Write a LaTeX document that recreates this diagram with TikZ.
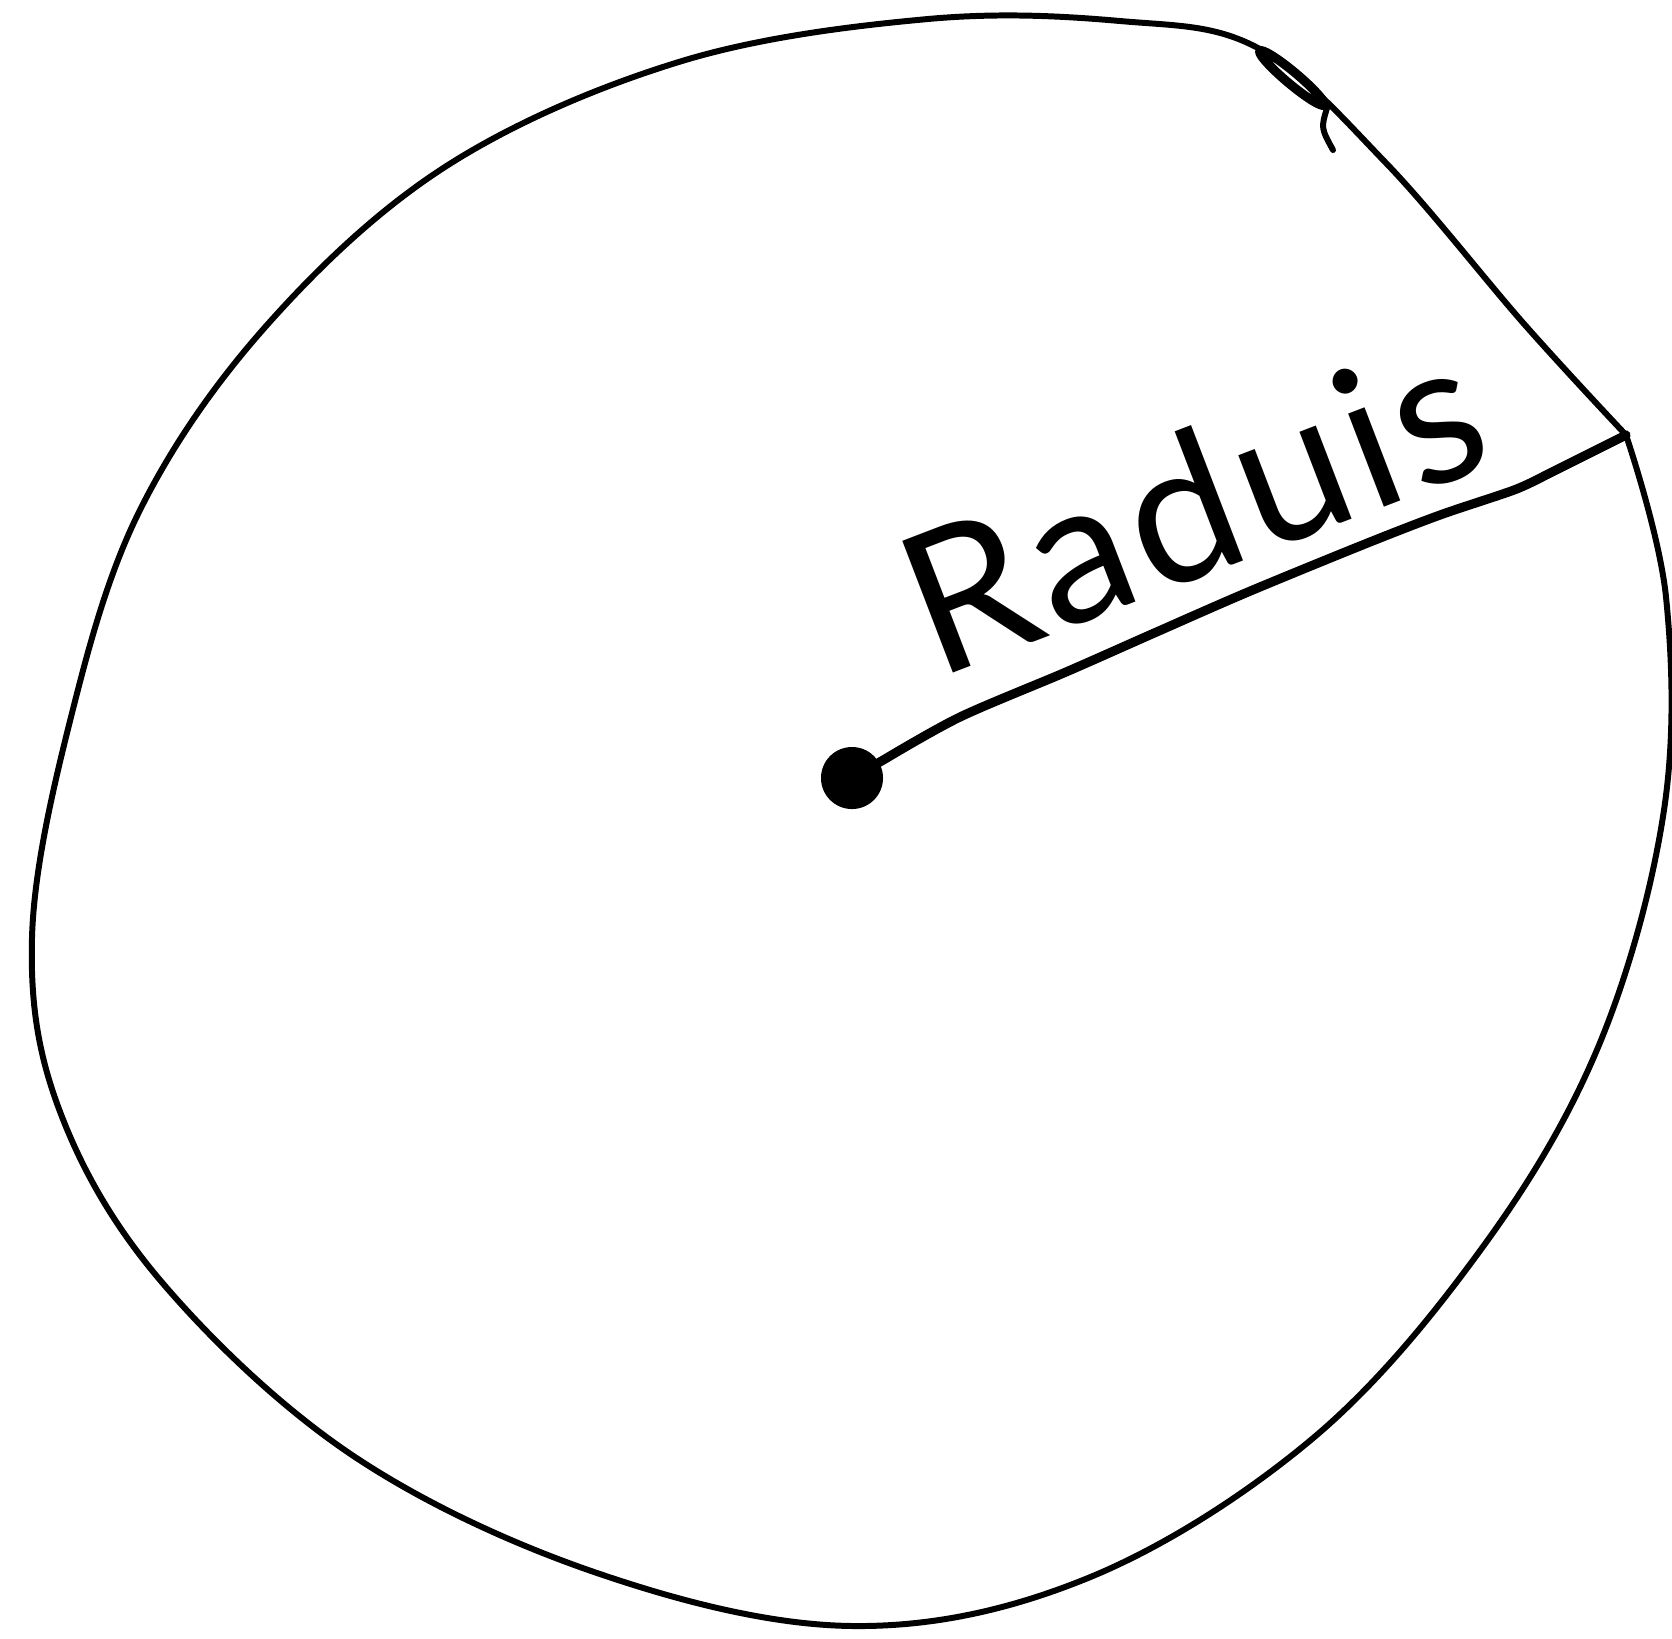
\documentclass[tikz,border=0pt]{standalone}
\usepackage{fontspec}
\setmainfont{Lato}
\begin{document}
\begin{tikzpicture}[x=0.01cm,y=-0.01cm,
  rim/.style={line width=1.7pt,line join=round,line cap=round},
  radline/.style={line width=2.6pt,line cap=round},
  lbl/.style={font=\fontsize{56}{60}\selectfont,inner sep=0pt}]
\useasboundingbox (0,0) rectangle (1672,1638);
% end point of the radius on the rim
\coordinate (E) at (1626,435);
% circle outline (starts and ends at the radius end, where it has a kink)
\draw[rim] plot[smooth,tension=0.6] coordinates {
 (1626,435) (1666,597) (1664,810) (1599,1045) (1482,1248) (1312,1439)
 (1088,1578) (853,1626) (597,1573) (352,1455) (160,1280) (59,1109)
 (32,938) (69,725) (139,512) (267,325) (448,165) (682,61) (928,19)
 (1120,21) (1258,48) (1386,163) (1525,325) (1626,435)};
% small loop and tail at top right
\draw[rim,line width=2.6pt,rotate around={-40:(1292,78)}] (1292,78) ellipse (42 and 6);
\draw[rim] (1327,108) .. controls (1321,128) .. (1333,150);
% centre
\node[circle,fill=black,minimum size=0.62cm,inner sep=0pt] (dot) at (852,778) {};
\draw[radline] (dot.center) -- (885,759)
  plot[smooth,tension=0.5] coordinates {(885,759) (960,717) (1066,672) (1152,634) (1248,592) (1365,544) (1440,515) (1514,490) (1546,475)}
  -- (E);
% label
\node[lbl,rotate=21] (rad) at (1192,504) {R\kern.03em a\kern.03em d\kern.03em u\kern.03em i\kern.03em s};
\end{tikzpicture}
\end{document}
